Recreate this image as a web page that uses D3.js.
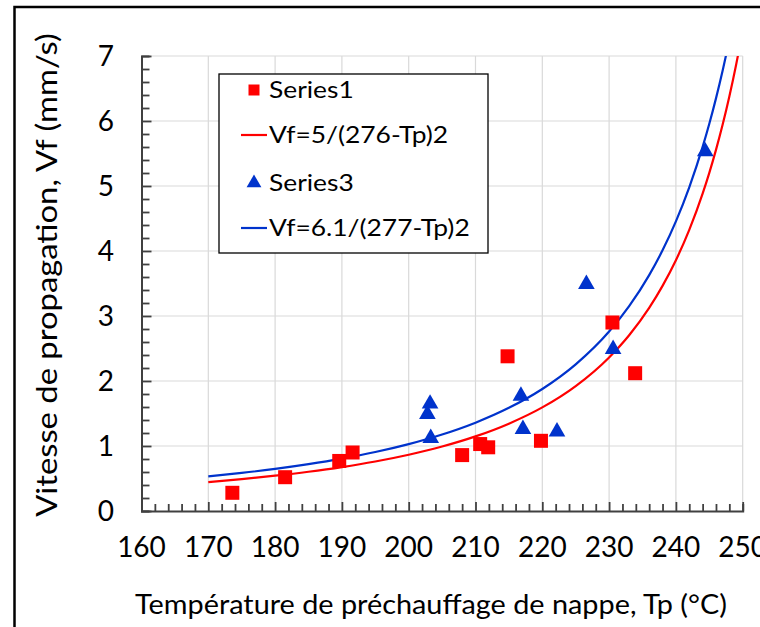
<!DOCTYPE html>
<html><head><meta charset="utf-8">
<script src="https://cdn.jsdelivr.net/npm/d3@7"></script>
<style>body{margin:0;background:#fff;} svg{display:block;font-family:Lato,"Open Sans",sans-serif;}</style>
</head><body>
<svg id="c" width="760" height="627"></svg>
<script>
// Series1 (red squares)
const s1Tp = [173.6,181.5,189.6,191.6,208.0,210.7,211.9,214.8,219.8,230.5,233.9];
const s1Vf = [0.28,0.52,0.77,0.90,0.86,1.03,0.98,2.38,1.08,2.90,2.12];
// Series3 (blue triangles)
const s3Tp = [203.2,202.8,203.3,216.8,217.1,222.2,230.6,226.6,244.4];
const s3Vf = [1.65,1.49,1.12,1.77,1.26,1.22,2.49,3.49,5.53];
// Trend curve Vf=5/(276-Tp)2 (red)
const redTp = [170,175,180,185,190,195,200,205,210,215,220,225,230,233,236,238,240,242,244,245,246,247,248,249,249.3];
const redVf = [0.445,0.490,0.543,0.604,0.676,0.762,0.866,0.992,1.148,1.344,1.594,1.922,2.363,2.704,3.125,3.463,3.858,4.325,4.883,5.203,5.556,5.945,6.378,6.859,7.014];
// Trend curve Vf=6.1/(277-Tp)2 (blue)
const blueTp = [170,175,180,185,190,195,200,205,210,215,220,225,230,233,236,238,240,242,244,245,246,247,247.5];
const blueVf = [0.533,0.586,0.648,0.721,0.806,0.907,1.029,1.177,1.359,1.587,1.877,2.256,2.761,3.151,3.629,4.010,4.456,4.980,5.601,5.957,6.348,6.778,7.009];
const xTicks = [160,170,180,190,200,210,220,230,240,250];
const yTicks = [0,1,2,3,4,5,6,7];
const legendLabels = ["Series1","Vf=5/(276-Tp)2","Series3","Vf=6.1/(277-Tp)2"];
const xTitle = "Température de préchauffage de nappe, Tp (°C)";
const yTitle = "Vitesse de propagation, Vf (mm/s)";

const RED = "#ff0000", BLUE = "#0033cc";
const svg = d3.select("#c");
const x = d3.scaleLinear().domain([160,250]).range([141.5,742.7]);
const y = d3.scaleLinear().domain([0,7]).range([511,56]);

// outer frame
svg.append("rect").attr("x",14.5).attr("y",7).attr("width",800).attr("height",700)
  .attr("fill","none").attr("stroke","#000").attr("stroke-width",2.5);

// gridlines
const g = svg.append("g");
g.selectAll(".vg").data(xTicks.slice(1)).join("line")
  .attr("x1",d=>x(d)).attr("x2",d=>x(d)).attr("y1",y(0)).attr("y2",y(7))
  .attr("stroke","#d9d9d9").attr("stroke-width",1.2);
g.selectAll(".hg").data(yTicks.slice(1)).join("line")
  .attr("x1",x(160)).attr("x2",x(250)).attr("y1",d=>y(d)).attr("y2",d=>y(d))
  .attr("stroke","#d9d9d9").attr("stroke-width",1.2);

// axes
const xAxis = d3.axisBottom(x).tickValues(d3.range(160,250.1,2)).tickSize(-7).tickFormat("");
const gx = svg.append("g").attr("transform",`translate(0,${y(0)})`).call(xAxis);
const yAxis = d3.axisLeft(y).tickValues(d3.range(0,7.01,0.2)).tickSize(-8).tickFormat("");
const gy = svg.append("g").attr("transform",`translate(${x(160)},0)`).call(yAxis);
[gx,gy].forEach(a=>{a.select(".domain").attr("stroke","#404040").attr("stroke-width",2);
  a.selectAll(".tick line").attr("stroke","#404040").attr("stroke-width",1.8);});
gx.selectAll(".tick").filter(d=>Math.abs(d%10)<1e-6).select("line").attr("y2",-9);
gy.selectAll(".tick").filter(d=>Math.abs(d-Math.round(d))<1e-6).select("line").attr("x2",10);

// tick labels
svg.append("g").selectAll("text").data(xTicks).join("text")
  .attr("x",d=>x(d)).attr("y",557).attr("text-anchor","middle")
  .attr("font-size",28).attr("fill","#000").text(d=>d);
svg.append("g").selectAll("text").data(yTicks).join("text")
  .attr("x",114).attr("y",d=>y(d)+10).attr("text-anchor","end")
  .attr("font-size",28).attr("fill","#000").text(d=>d);

// helper: horizontally fit a text to a target length
function fit(sel, target, tx, ty, rot){
  const L = sel.node().getComputedTextLength();
  const s = target / L;
  sel.attr("transform",`translate(${tx},${ty})${rot?` rotate(${rot})`:""} scale(${s},1)`);
}
// titles
const xt = svg.append("text").attr("text-anchor","middle")
  .attr("font-size",27).attr("fill","#000").text(xTitle);
fit(xt, 592, 431, 614, 0);
const yt = svg.append("text").attr("text-anchor","middle")
  .attr("font-size",29).attr("fill","#000").text(yTitle);
fit(yt, 484, 57, 275, -90);

// curves
svg.append("clipPath").attr("id","clip").append("rect")
  .attr("x",x(160)).attr("y",y(7)).attr("width",x(250)-x(160)).attr("height",y(0)-y(7));
const line = d3.line().x(d=>x(d[0])).y(d=>y(d[1])).curve(d3.curveMonotoneX);
const cg = svg.append("g").attr("clip-path","url(#clip)");
cg.append("path").attr("d",line(redTp.map((t,i)=>[t,redVf[i]])))
  .attr("fill","none").attr("stroke",RED).attr("stroke-width",2.2);
cg.append("path").attr("d",line(blueTp.map((t,i)=>[t,blueVf[i]])))
  .attr("fill","none").attr("stroke",BLUE).attr("stroke-width",2.2);

// markers
const sq = d3.symbol().type(d3.symbolSquare).size(196);
const tri = d3.symbol().type(d3.symbolTriangle).size(120);
svg.append("g").selectAll("path").data(s1Tp.map((t,i)=>[t,s1Vf[i]])).join("path")
  .attr("d",sq).attr("transform",d=>`translate(${x(d[0])},${y(d[1])})`).attr("fill",RED);
svg.append("g").selectAll("path").data(s3Tp.map((t,i)=>[t,s3Vf[i]])).join("path")
  .attr("d",tri).attr("transform",d=>`translate(${x(d[0])},${y(d[1])})`).attr("fill",BLUE);

// legend
const lg = svg.append("g");
lg.append("rect").attr("x",219).attr("y",74).attr("width",269).attr("height",179)
  .attr("fill","#fff").attr("stroke","#000").attr("stroke-width",1.3);
const rowsY = [90,135,183,228];
lg.append("path").attr("d",d3.symbol().type(d3.symbolSquare).size(121))
  .attr("transform",`translate(254,${rowsY[0]})`).attr("fill",RED);
lg.append("line").attr("x1",241).attr("x2",267).attr("y1",rowsY[1]).attr("y2",rowsY[1])
  .attr("stroke",RED).attr("stroke-width",2.2);
lg.append("path").attr("d",d3.symbol().type(d3.symbolTriangle).size(95))
  .attr("transform",`translate(254,${rowsY[2]})`).attr("fill",BLUE);
lg.append("line").attr("x1",241).attr("x2",267).attr("y1",rowsY[3]).attr("y2",rowsY[3])
  .attr("stroke",BLUE).attr("stroke-width",2.2);
lg.selectAll("text").data(legendLabels).join("text")
  .attr("font-size",24).attr("fill","#000").text(d=>d)
  .attr("transform",(d,i)=>`translate(269,${rowsY[i]+8}) scale(1.1,1)`);
</script>
</body></html>
